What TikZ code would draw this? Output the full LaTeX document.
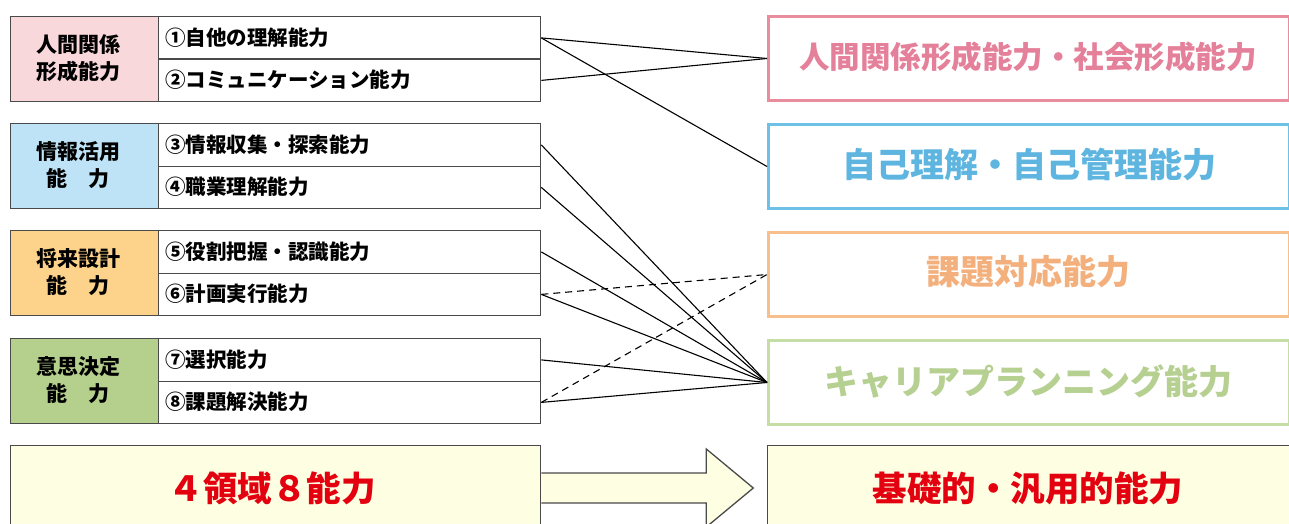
\documentclass[tikz,border=0pt]{standalone}
\usepackage{fontspec}
\setmainfont{Noto Sans CJK JP}
\definecolor{pkfill}{HTML}{F9D8DB}
\definecolor{blfill}{HTML}{BEE3F6}
\definecolor{orfill}{HTML}{FDD38C}
\definecolor{grfill}{HTML}{B5CF8C}
\definecolor{pkline}{HTML}{E98D9E}
\definecolor{pktext}{HTML}{E5809A}
\definecolor{blline}{HTML}{6DC1E6}
\definecolor{bltext}{HTML}{5DB5E0}
\definecolor{orline}{HTML}{F7BF8C}
\definecolor{ortext}{HTML}{F3B07C}
\definecolor{grline}{HTML}{C6DDA6}
\definecolor{grtext}{HTML}{B6D091}
\definecolor{ylfill}{HTML}{FEFEE2}
\definecolor{redtext}{HTML}{E3000F}
\definecolor{boxline}{HTML}{4A4A4A}
\tikzset{
  labelbox/.style={draw=boxline, line width=1.3pt, minimum width=148pt, minimum height=85pt,
    anchor=north west, inner sep=0pt},
  labeltext/.style={anchor=center, inner sep=0pt, align=center, font=\fontsize{21}{27}\selectfont\bfseries},
  itembox/.style={draw=boxline, line width=1.3pt, fill=white, minimum width=382pt, minimum height=42.5pt,
    anchor=north west, inner sep=0pt},
  itemtext/.style={anchor=west, inner sep=0pt, font=\fontsize{20.5}{24}\selectfont\bfseries},
  rightbox/.style={line width=3pt, fill=white, minimum width=521pt, minimum height=84pt,
    anchor=north west, inner sep=0pt},
  righttext/.style={anchor=center, inner sep=0pt, font=\fontsize{34}{38}\selectfont\bfseries},
  conn/.style={line width=1.1pt, black},
  dconn/.style={line width=1.1pt, black, dash pattern=on 7pt off 5pt},
  bottomtext/.style={anchor=center, inner sep=0pt, text=redtext, font=\fontsize{34.5}{38}\selectfont\bfseries}
}
\begin{document}
\begin{tikzpicture}[x=1pt, y=-1pt]
\useasboundingbox (0,0) rectangle (1289,524);
\clip (0,0) rectangle (1289,524);
\fill[white] (0,0) rectangle (1289,524);
% left groups
\foreach \T/\fc/\txt/\na/\nb/\ta/\tb/\g in {
  16/pkfill/{人間関係\\形成能力}/i1/i2/{①自他の理解能力}/{②コミュニケーション能力}/g1,
  123/blfill/{情報活用\\能　力}/i3/i4/{③情報収集・探索能力}/{④職業理解能力}/g2,
  230/orfill/{将来設計\\能　力}/i5/i6/{⑤役割把握・認識能力}/{⑥計画実行能力}/g3,
  338/grfill/{意思決定\\能　力}/i7/i8/{⑦選択能力}/{⑧課題解決能力}/g4}{
  \node[labelbox, fill=\fc] (\g) at (10,\T) {};
  \node[labeltext] (\g t) at (78,\T+42) {\txt};
  \node[itembox] (\na) at (158,\T) {};
  \node[itembox] (\nb) at (158,\T+42.5) {};
  \node[itemtext] (\na t) at (165,\T+21.5) {\ta};
  \node[itemtext] (\nb t) at (165,\T+64) {\tb};
}
% right boxes
\node[rightbox, draw=pkline] (r1) at (767,15) {};
\node[righttext, text=pktext, font=\fontsize{30.5}{34}\selectfont\bfseries] (r1t) at (1028,57) {人間関係形成能力・社会形成能力};
\node[rightbox, draw=blline] (r2) at (767,123) {};
\node[righttext, text=bltext] (r2t) at (1029,165) {自己理解・自己管理能力};
\node[rightbox, draw=orline] (r3) at (767,231) {};
\node[righttext, text=ortext] (r3t) at (1028,272) {課題対応能力};
\node[rightbox, draw=grline] (r4) at (767,339) {};
\node[righttext, text=grtext] (r4t) at (1028,381) {キャリアプランニング能力};
% connectors
\draw[conn] (i1.east) -- (r1.west);
\draw[conn] (i2.east) -- (r1.west);
\draw[conn] (i1.east) -- (r2.west);
\draw[conn] (i3.east) -- (r4.west);
\draw[conn] (i4.east) -- (r4.west);
\draw[conn] (i5.east) -- (r4.west);
\draw[conn] (i6.east) -- (r4.west);
\draw[conn] (i7.east) -- (r4.west);
\draw[conn] (i8.east) -- (r4.west);
\draw[dconn] (i6.east) -- (r3.west);
\draw[dconn] (i8.east) -- (r3.west);
% bottom
\node[draw=boxline, line width=1.3pt, fill=ylfill, minimum width=530pt, minimum height=100pt, anchor=north west, inner sep=0pt] (b1) at (10,445) {};
\node[bottomtext] (b1t) at (272,488) {４領域８能力};
\node[draw=boxline, line width=1.3pt, fill=ylfill, minimum width=540pt, minimum height=100pt, anchor=north west, inner sep=0pt] (b2) at (767,445) {};
\node[bottomtext] (b2t) at (1028,488) {基礎的・汎用的能力};
\coordinate (ab) at (b1.east |- 0,473);
\draw[boxline, line width=1.3pt, fill=ylfill] (ab) -- ++(165,0) -- ++(0,-24) -- ++(47,39) -- ++(-47,39) -- ++(0,-24) -- ++(-165,0);
\end{tikzpicture}
\end{document}
